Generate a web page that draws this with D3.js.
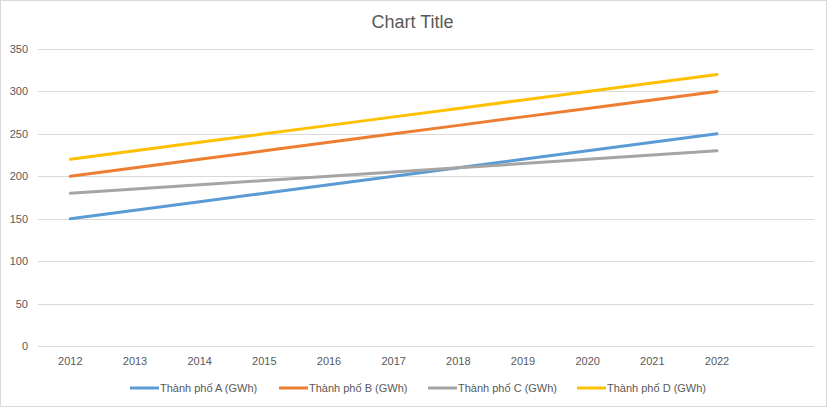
<!DOCTYPE html>
<html>
<head>
<meta charset="utf-8">
<script src="https://cdn.jsdelivr.net/npm/d3@7"></script>
<style>
  body { margin: 0; background: #fff; }
  text { font-family: "Liberation Sans", Arial, sans-serif; }
</style>
</head>
<body>
<script>
var years = ['2012', '2013', '2014', '2015', '2016', '2017', '2018', '2019', '2020', '2021', '2022', ''];
var seriesNames = ['Thành phố A (GWh)', 'Thành phố B (GWh)', 'Thành phố C (GWh)', 'Thành phố D (GWh)'];
var cityA = [150, 160, 170, 180, 190, 200, 210, 220, 230, 240, 250];
var cityB = [200, 210, 220, 230, 240, 250, 260, 270, 280, 290, 300];
var cityC = [180, 185, 190, 195, 200, 205, 210, 215, 220, 225, 230];
var cityD = [220, 230, 240, 250, 260, 270, 280, 290, 300, 310, 320];
var yTicks = [0, 50, 100, 150, 200, 250, 300, 350];
var colors = ['#5b9bd5', '#ed7d31', '#a5a5a5', '#ffc000'];

var outerWidth = 829,
    outerHeight = 408,
    margin = {top: 49, right: 15, bottom: 62, left: 38},
    width = outerWidth - margin.left - margin.right,
    height = outerHeight - margin.top - margin.bottom;

var svg = d3.select('body').append('svg')
    .attr('width', outerWidth)
    .attr('height', outerHeight);

svg.append('rect')
    .attr('x', 0.5).attr('y', 0.5)
    .attr('width', outerWidth - 3).attr('height', outerHeight - 2)
    .attr('fill', '#fff')
    .attr('stroke', '#d9d9d9');

svg.append('text')
    .attr('x', outerWidth / 2 - 2)
    .attr('y', 28)
    .attr('text-anchor', 'middle')
    .attr('font-size', 18)
    .attr('fill', '#595959')
    .text('Chart Title');

var g = svg.append('g')
    .attr('transform', 'translate(' + margin.left + ',' + margin.top + ')');

var x = d3.scaleBand().domain(years).range([0, width]);
var y = d3.scaleLinear().domain([0, 350]).range([height, 0]);

// gridlines
g.selectAll('.grid')
    .data(yTicks)
    .enter().append('line')
    .attr('x1', 0).attr('x2', width)
    .attr('y1', function(d) { return Math.round(y(d)) + 0.5; })
    .attr('y2', function(d) { return Math.round(y(d)) + 0.5; })
    .attr('stroke', '#d9d9d9');

var yAxis = g.append('g')
    .call(d3.axisLeft(y).tickValues(yTicks).tickSize(0).tickPadding(10));
yAxis.select('.domain').remove();
yAxis.selectAll('text').attr('font-size', 11).attr('fill', '#595959');

var xAxis = g.append('g')
    .attr('transform', 'translate(0,' + height + ')')
    .call(d3.axisBottom(x).tickSize(0).tickPadding(11));
xAxis.select('.domain').remove();
xAxis.selectAll('text').attr('font-size', 11).attr('fill', '#595959');

var allSeries = [cityA, cityB, cityC, cityD];
var line = d3.line()
    .x(function(d, i) { return x(years[i]) + x.bandwidth() / 2; })
    .y(function(d) { return y(d); });

g.selectAll('.series')
    .data(allSeries)
    .enter().append('path')
    .attr('d', line)
    .attr('fill', 'none')
    .attr('stroke', function(d, i) { return colors[i]; })
    .attr('stroke-width', 3)
    .attr('stroke-linecap', 'round')
    .attr('stroke-linejoin', 'round');

// legend
var legend = svg.selectAll('.legend')
    .data(seriesNames)
    .enter().append('g')
    .attr('transform', function(d, i) { return 'translate(' + (130 + i * 149) + ',388)'; });

legend.append('line')
    .attr('x1', 0).attr('x2', 29)
    .attr('stroke', function(d, i) { return colors[i]; })
    .attr('stroke-width', 3);

legend.append('text')
    .attr('x', 30)
    .attr('y', 4)
    .attr('font-size', 11)
    .attr('fill', '#595959')
    .text(function(d) { return d; });
</script>
</body>
</html>
